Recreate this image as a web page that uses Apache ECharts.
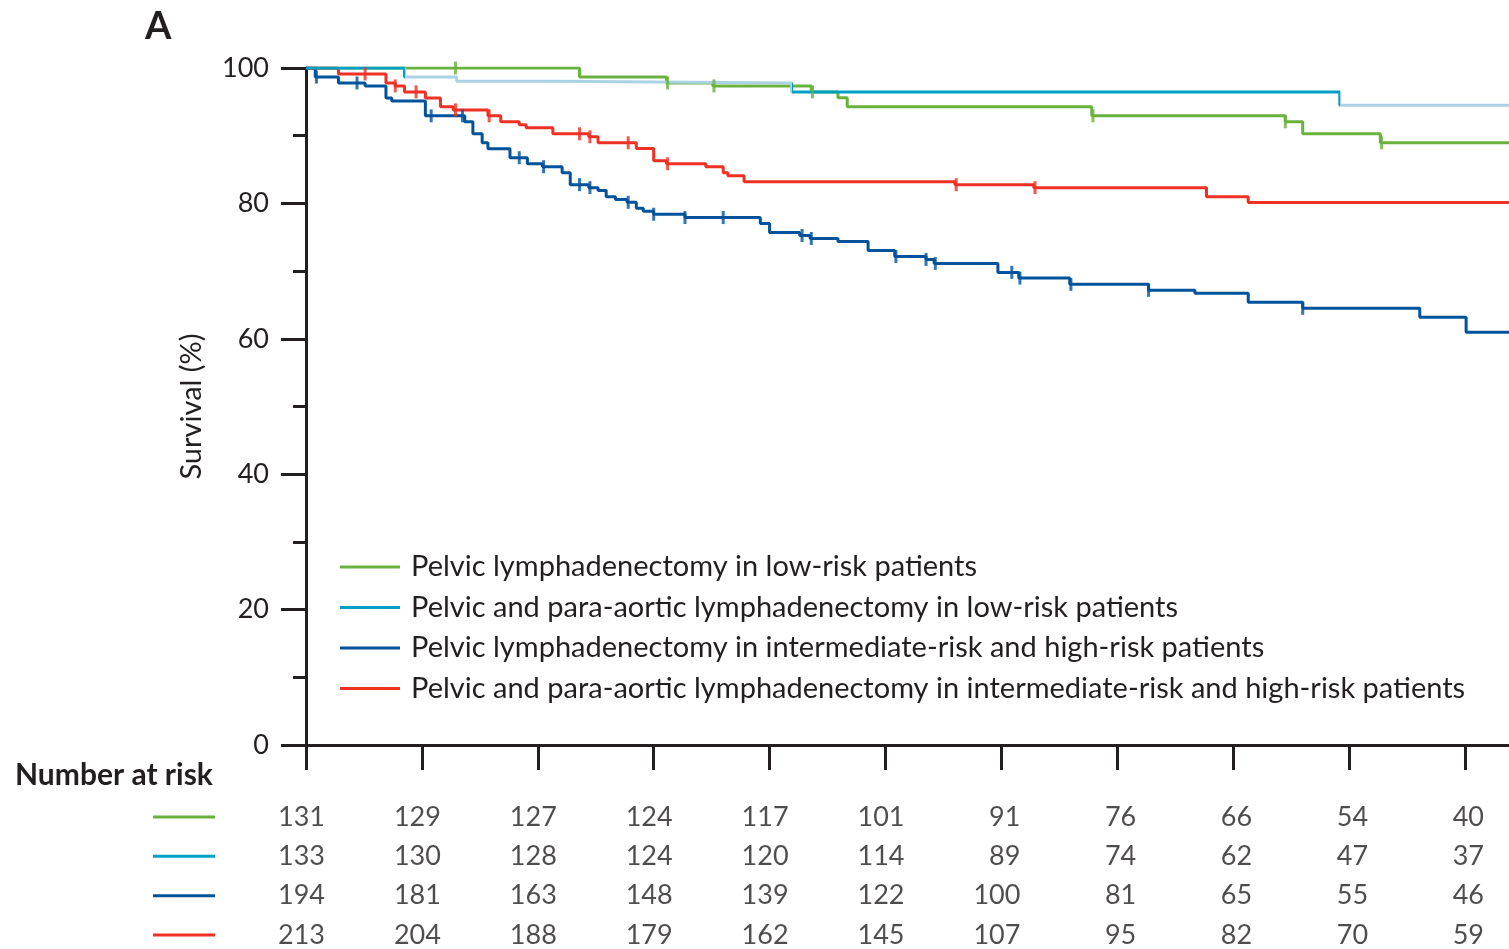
<!DOCTYPE html>
<html>
<head>
<meta charset="utf-8">
<script src="https://cdn.jsdelivr.net/npm/echarts@6/dist/echarts.min.js"></script>
<style>
html, body { margin: 0; padding: 0; background: #fff; }
#main { width: 1509px; height: 949px; }
</style>
</head>
<body>
<div id="main"></div>
<script>
// names of the four groups
var seriesNames = [
    'Pelvic lymphadenectomy in low-risk patients',
    'Pelvic and para-aortic lymphadenectomy in low-risk patients',
    'Pelvic lymphadenectomy in intermediate-risk and high-risk patients',
    'Pelvic and para-aortic lymphadenectomy in intermediate-risk and high-risk patients'
];
var colors = ['#6ab23e', '#00a0c6', '#00529b', '#ee3124'];
var paleBlue = '#aad2e3';

// Kaplan-Meier steps: [time (years), survival %]
var greenSteps = [[0,100],[2.36,98.67],[3.11,97.79],[3.51,97.35],[4.36,96.47],[4.59,95.6],[4.67,94.26],[6.78,92.93],[8.45,92.05],[8.6,90.28],[9.27,88.95],[10.38,88.95]];
var cyanSteps = [[0,100],[0.85,98.67],[1.3,98.03],[2.13,97.79],[4.19,96.47],[8.92,94.5],[10.38,94.5]];
var blueSteps = [[0,100],[0.08,98.67],[0.28,97.79],[0.51,97.35],[0.69,95.58],[0.74,95.14],[1.03,92.93],[1.37,92.05],[1.44,90.28],[1.52,88.95],[1.57,88.07],[1.76,86.75],[1.91,85.86],[2.04,85.42],[2.21,84.54],[2.28,82.77],[2.44,82.33],[2.52,81.89],[2.59,81.0],[2.67,80.56],[2.77,80.16],[2.85,79.28],[2.91,78.84],[3.0,78.4],[3.27,77.91],[3.92,77.03],[4.0,75.7],[4.26,75.26],[4.35,74.82],[4.59,74.37],[4.85,73.05],[5.08,72.16],[5.35,71.72],[5.42,71.13],[5.97,69.81],[6.15,68.97],[6.59,68.04],[7.27,67.16],[7.67,66.72],[8.13,65.39],[8.6,64.51],[9.61,63.18],[10.01,60.97],[10.38,60.97]];
var redSteps = [[0,100],[0.28,99.12],[0.69,97.79],[0.77,97.35],[0.85,96.47],[1.03,95.58],[1.16,94.26],[1.27,93.81],[1.57,92.93],[1.68,92.05],[1.84,91.61],[1.9,91.16],[2.13,90.28],[2.44,89.84],[2.52,88.95],[2.85,88.11],[3.0,86.3],[3.11,85.86],[3.45,85.42],[3.6,84.54],[3.64,84.09],[3.78,83.21],[5.6,82.77],[6.28,82.33],[7.77,81.0],[8.13,80.12],[10.38,80.12]];

// censoring times
var greenCensor = [1.29, 3.12, 3.52, 4.37, 6.79, 8.45, 9.28];
var cyanCensor = [];
var blueCensor = [0.09, 0.44, 1.08, 1.35, 1.84, 2.05, 2.36, 2.45, 2.78, 3.0, 3.27, 3.6, 4.28, 4.36, 5.09, 5.35, 5.43, 6.09, 6.16, 6.6, 7.27, 8.6];
var redCensor = [0.51, 0.77, 0.95, 1.29, 1.58, 2.36, 2.45, 2.78, 3.12, 5.61, 6.29];

// number at risk
var riskTimes = [0, 1, 2, 3, 4, 5, 6, 7, 8, 9, 10];
var riskGreen = [131, 129, 127, 124, 117, 101, 91, 76, 66, 54, 40];
var riskCyan = [133, 130, 128, 124, 120, 114, 89, 74, 62, 47, 37];
var riskBlue = [194, 181, 163, 148, 139, 122, 100, 81, 65, 55, 46];
var riskRed = [213, 204, 188, 179, 162, 145, 107, 95, 82, 70, 59];

var yTicks = [0, 20, 40, 60, 80, 100];
var xMax = 10.38;

var allSteps = [greenSteps, cyanSteps, blueSteps, redSteps];
var allCensor = [greenCensor, cyanCensor, blueCensor, redCensor];
var allRisk = [riskGreen, riskCyan, riskBlue, riskRed];

var ink = '#231f20';
var font = 'Lato, "Noto Sans", sans-serif';

function stepAt(steps, t) {
    var v = steps[0][1];
    for (var i = 0; i < steps.length; i++) {
        if (steps[i][0] <= t) v = steps[i][1];
    }
    return v;
}

var myChart = echarts.init(document.getElementById('main'));

var series = [];
for (var k = 0; k < 4; k++) {
    var ls = { width: 3 };
    if (k !== 1) ls.color = colors[k]; // cyan line gets its colour from visualMap
    series.push({
        name: seriesNames[k],
        type: 'line',
        step: 'end',
        showSymbol: false,
        silent: true,
        data: allSteps[k],
        lineStyle: ls,
        itemStyle: { color: colors[k] },
        z: k === 1 ? 3 : 2
    });
}
for (var k = 0; k < 4; k++) {
    series.push({
        name: 'censor' + k,
        type: 'scatter',
        symbol: 'rect',
        symbolSize: [3, 13],
        silent: true,
        itemStyle: { color: colors[k] },
        data: allCensor[k].map(function (t) { return [t, stepAt(allSteps[k], t)]; }),
        z: 4
    });
}
// number at risk table
var riskData = [];
for (var r = 0; r < 4; r++) {
    for (var i = 0; i < riskTimes.length; i++) {
        riskData.push([riskTimes[i], r, allRisk[r][i]]);
    }
}
series.push({
    name: 'risk',
    type: 'scatter',
    xAxisIndex: 1,
    yAxisIndex: 1,
    symbolSize: 0,
    silent: true,
    data: riskData,
    label: {
        show: true,
        position: 'inside',
        align: 'right',
        offset: [19, 0],
        formatter: function (p) { return p.value[2]; },
        fontSize: 27,
        fontFamily: font,
        color: ink
    }
});

var option = {
    animation: false,
    grid: [
        { left: 306, right: 0, top: 68, bottom: 204 },
        { left: 306, right: 0, top: 817, height: 118 }
    ],
    legend: {
        left: 340,
        top: 552,
        padding: 0,
        orient: 'vertical',
        icon: 'rect',
        itemWidth: 60,
        itemHeight: 3,
        itemGap: 10.5,
        selectedMode: false,
        textStyle: { fontSize: 29, fontFamily: font, color: ink, lineHeight: 30, padding: [0, 0, 0, 6] },
        data: seriesNames.map(function (n, k) {
            return { name: n, itemStyle: { color: colors[k] } };
        })
    },
    visualMap: {
        show: false,
        type: 'piecewise',
        seriesIndex: 1,
        dimension: 0,
        pieces: [
            { lt: cyanSteps[1][0], color: colors[1] },
            { gte: cyanSteps[1][0], lt: cyanSteps[4][0], color: paleBlue },
            { gte: cyanSteps[4][0], lt: cyanSteps[5][0], color: colors[1] },
            { gte: cyanSteps[5][0], color: paleBlue }
        ]
    },
    xAxis: [{
        type: 'value',
        min: 0,
        max: xMax,
        interval: 1,
        axisLine: { lineStyle: { color: ink, width: 3 } },
        axisTick: { length: 25, lineStyle: { color: ink, width: 3 }, customValues: riskTimes },
        axisLabel: { show: false },
        splitLine: { show: false }
    }, {
        type: 'value',
        gridIndex: 1,
        min: 0,
        max: xMax,
        show: false
    }],
    yAxis: [{
        type: 'value',
        min: 0,
        max: 100,
        interval: 20,
        axisLine: { show: true, lineStyle: { color: ink, width: 3 } },
        axisTick: { show: true, length: 25, lineStyle: { color: ink, width: 3 } },
        minorTick: { show: true, splitNumber: 2, length: 13, lineStyle: { color: ink, width: 3 } },
        axisLabel: {
            margin: 37, fontSize: 27, fontFamily: font, color: ink,
            customValues: yTicks
        },
        splitLine: { show: false },
        name: 'Survival (%)',
        nameLocation: 'middle',
        nameGap: 100,
        nameTextStyle: { fontSize: 29, fontFamily: font, color: ink }
    }, {
        type: 'value',
        gridIndex: 1,
        inverse: true,
        min: 0,
        max: 3,
        interval: 1,
        axisLine: { show: false },
        axisTick: { show: false },
        splitLine: { show: false },
        axisLabel: {
            margin: 91,
            formatter: function (v) { return '{b' + v + '|}'; },
            rich: {
                b0: { width: 62, height: 3, backgroundColor: colors[0] },
                b1: { width: 62, height: 3, backgroundColor: colors[1] },
                b2: { width: 62, height: 3, backgroundColor: colors[2] },
                b3: { width: 62, height: 3, backgroundColor: colors[3] }
            }
        }
    }],
    graphic: [
        { type: 'text', left: 145, top: 8, style: { text: 'A', font: 'bold 38px ' + font, fill: ink } },
        { type: 'text', left: 15, top: 760, style: { text: 'Number at risk', font: 'bold 30px ' + font, fill: ink } }
    ],
    series: series
};

myChart.setOption(option);
</script>
</body>
</html>
